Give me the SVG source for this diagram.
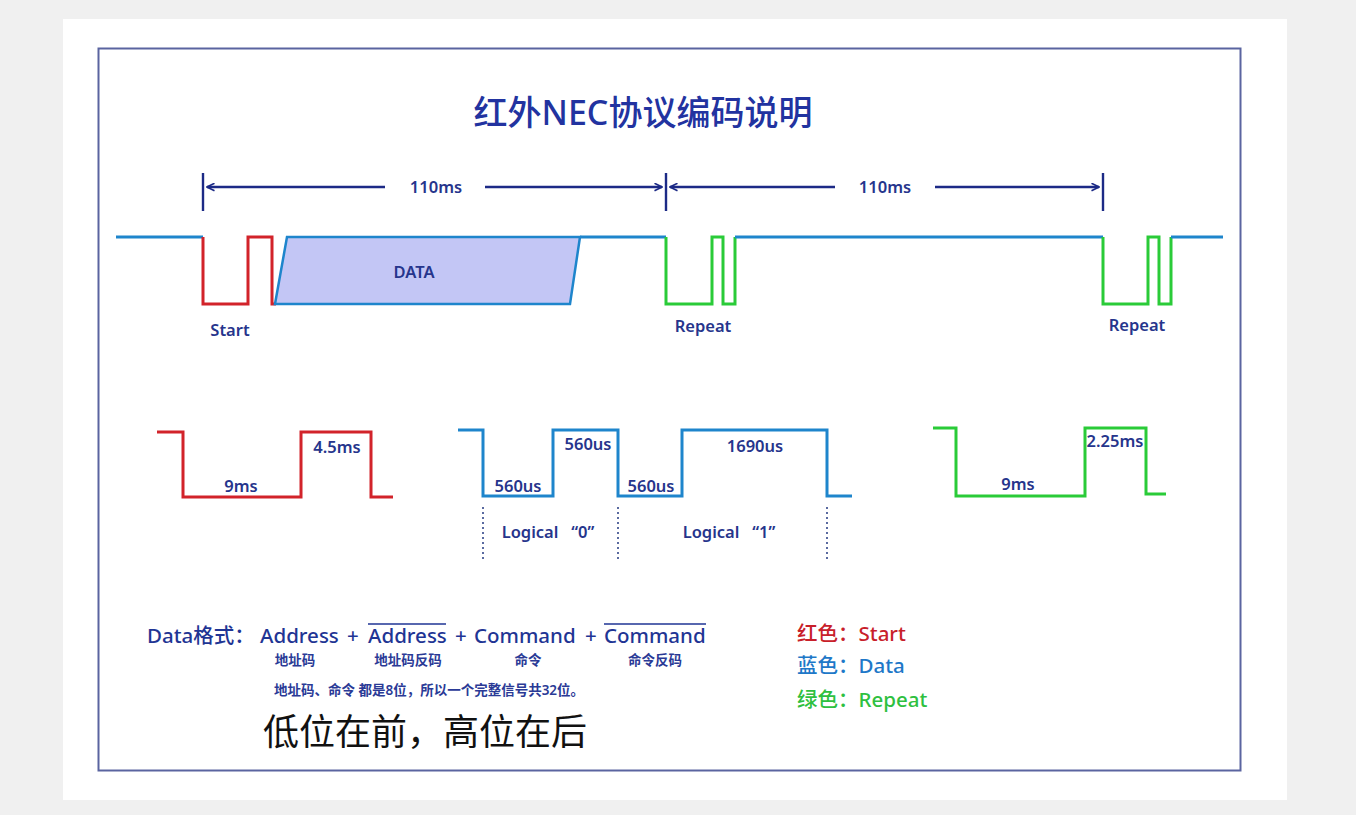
<svg xmlns="http://www.w3.org/2000/svg" width="1356" height="815" viewBox="0 0 1356 815">
<defs>
<marker id="ah" viewBox="0 0 12 12" refX="11" refY="6" markerWidth="9" markerHeight="9" orient="auto-start-reverse" markerUnits="userSpaceOnUse">
<path d="M1,1 L11,6 L1,11" fill="none" stroke="#1c2a86" stroke-width="2.2"/>
</marker>
<style>
text{font-family:"Noto Sans","Noto Sans CJK SC",sans-serif;}
.lbl{fill:#26358c;font-size:16.5px;font-weight:600;text-anchor:middle;}
.red{fill:none;stroke:#d2232a;stroke-width:3;}
.blue{fill:none;stroke:#1e85cc;stroke-width:3;}
.green{fill:none;stroke:#2acb38;stroke-width:3;}
.dim{stroke:#1c2a86;stroke-width:2.4;fill:none;}
.dot{stroke:#5a6aa0;stroke-width:2;stroke-dasharray:2 3;}
.fmt{fill:#1f3594;font-size:20.5px;font-weight:500;}
.sm{fill:#2a3a96;font-size:13.5px;font-weight:600;text-anchor:middle;}
.leg{font-size:20.5px;font-weight:500;}
</style>
</defs>
<rect x="0" y="0" width="1356" height="815" fill="#f0f0f0"/>
<rect x="63" y="19" width="1224" height="781" fill="#ffffff"/>
<rect x="98.5" y="48.5" width="1142" height="722" fill="none" stroke="#5a64a0" stroke-width="2"/>
<text x="643" y="125" font-size="34" font-weight="500" fill="#2233a0" text-anchor="middle">红外NEC协议编码说明</text>

<g id="connectors">
<line class="dim" x1="203" y1="173" x2="203" y2="211"/>
<line class="dim" x1="666" y1="173" x2="666" y2="211"/>
<line class="dim" x1="1103" y1="173" x2="1103" y2="211"/>
<line class="dim" x1="207" y1="187" x2="385" y2="187" marker-start="url(#ah)"/>
<line class="dim" x1="485" y1="187" x2="662" y2="187" marker-end="url(#ah)"/>
<line class="dim" x1="670" y1="187" x2="835" y2="187" marker-start="url(#ah)"/>
<line class="dim" x1="935" y1="187" x2="1099" y2="187" marker-end="url(#ah)"/>
</g>
<text class="lbl" x="436" y="193">110ms</text>
<text class="lbl" x="885" y="193">110ms</text>

<g id="top-signal">
<polyline class="blue" points="116,237 203,237"/>
<polyline class="red" points="203,237 203,304 248,304 248,237 272,237 272,304 276,304"/>
<polygon points="275,304 287,237 580,237 570,304" fill="#c3c6f5" stroke="#1e85cc" stroke-width="2.5"/>
<polyline class="blue" points="580,237 666,237"/>
<polyline class="green" points="666,237 666,304 712,304 712,237 723,237 723,304 735,304 735,237"/>
<polyline class="blue" points="735,237 1103,237"/>
<polyline class="green" points="1103,237 1103,304 1148,304 1148,237 1159,237 1159,304 1171,304 1171,237"/>
<polyline class="blue" points="1171,237 1223,237"/>
<text class="lbl" x="414" y="278">DATA</text>
<text class="lbl" x="230" y="336">Start</text>
<text class="lbl" x="703" y="332">Repeat</text>
<text class="lbl" x="1137" y="331">Repeat</text>
</g>

<g id="start-detail">
<polyline class="red" points="157,432 183,432 183,497 301,497 301,432 371,432 371,497 393,497"/>
<text class="lbl" x="241" y="492">9ms</text>
<text class="lbl" x="337" y="453">4.5ms</text>
</g>

<g id="data-detail">
<polyline class="blue" points="458,430 483,430 483,496 553,496 553,430 618,430 618,496 682,496 682,430 827,430 827,496 852,496"/>
<text class="lbl" x="518" y="492">560us</text>
<text class="lbl" x="588" y="450">560us</text>
<text class="lbl" x="651" y="492">560us</text>
<text class="lbl" x="755" y="452">1690us</text>
<line class="dot" x1="483" y1="507" x2="483" y2="561"/>
<line class="dot" x1="618" y1="507" x2="618" y2="561"/>
<line class="dot" x1="827" y1="507" x2="827" y2="561"/>
<text class="lbl" x="548" y="538" xml:space="preserve">Logical   “0”</text>
<text class="lbl" x="729" y="538" xml:space="preserve">Logical   “1”</text>
</g>

<g id="repeat-detail">
<polyline class="green" points="933,428 956,428 956,496 1085,496 1085,428 1146,428 1146,494 1166,494"/>
<text class="lbl" x="1018" y="490">9ms</text>
<text class="lbl" x="1115" y="447">2.25ms</text>
</g>

<g id="format">
<text class="fmt" x="147" y="643">Data格式：</text>
<text class="fmt" x="260" y="643">Address</text>
<text class="fmt" x="347" y="643">+</text>
<text class="fmt" x="368" y="643">Address</text>
<line x1="368" y1="624" x2="446" y2="624" stroke="#1f3594" stroke-width="1.5"/>
<text class="fmt" x="455" y="643">+</text>
<text class="fmt" x="474" y="643">Command</text>
<text class="fmt" x="585" y="643">+</text>
<text class="fmt" x="604" y="643">Command</text>
<line x1="604" y1="624" x2="706" y2="624" stroke="#1f3594" stroke-width="1.5"/>
<text class="sm" x="295" y="665">地址码</text>
<text class="sm" x="408" y="665">地址码反码</text>
<text class="sm" x="528" y="665">命令</text>
<text class="sm" x="655" y="665">命令反码</text>
<text class="sm" x="429" y="695">地址码、命令 都是8位，所以一个完整信号共32位。</text>
<text x="263" y="745" font-size="36" fill="#111111">低位在前，高位在后</text>
</g>

<g id="legend">
<text class="leg" x="797" y="641" fill="#c8202a">红色：Start</text>
<text class="leg" x="797" y="673" fill="#1e78c8">蓝色：Data</text>
<text class="leg" x="797" y="707" fill="#2ec040">绿色：Repeat</text>
</g>
</svg>
